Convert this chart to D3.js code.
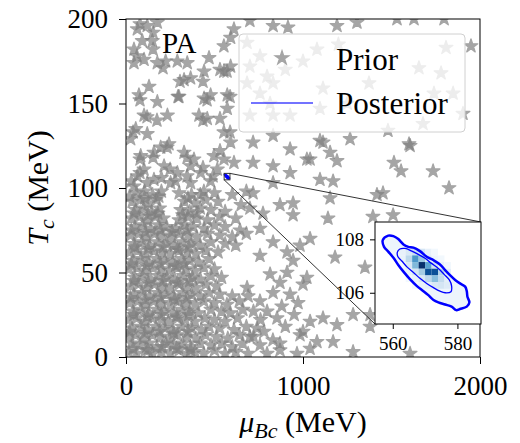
<!DOCTYPE html>
<html>
<head>
<meta charset="utf-8">
<script src="https://cdn.jsdelivr.net/npm/d3@7"></script>
<style>
  body { margin: 0; background: #fff; }
  text { font-family: "Liberation Serif", "DejaVu Serif", serif; }
</style>
</head>
<body>
<script>
// Prior samples [mu_Bc, T_c] in MeV, read off the picture region by region
// dense lower-left block
let priorDense = [
  [15,3],[60,2],[110,4],[150,2],[200,3],[250,2],[300,4],[345,2],[390,3],[440,2],[500,4],[560,2],[620,3],[690,2],
  [35,8],[80,7],[130,8],[175,6],[225,8],[270,7],[320,8],[365,6],[420,8],[480,7],[540,8],[600,6],[660,8],
  [10,12],[55,13],[100,11],[150,13],[195,12],[245,11],[290,13],[345,12],[395,11],[450,13],[510,12],[575,11],[640,13],[700,12],
  [35,17],[85,18],[125,16],[170,18],[220,17],[265,16],[315,18],[370,17],[425,16],[470,18],[530,17],[610,16],[680,18],
  [15,22],[60,23],[105,21],[150,23],[200,22],[240,21],[290,23],[335,22],[390,21],[445,23],[500,22],[560,21],[630,23],
  [40,27],[85,28],[130,26],[175,28],[220,27],[270,26],[315,28],[360,27],[410,26],[480,28],[540,27],[590,26],[660,28],[720,27],
  [20,32],[65,33],[110,31],[155,33],[200,32],[250,31],[295,33],[340,32],[390,31],[440,33],[500,32],[570,31],[640,33],
  [45,37],[90,38],[135,36],[180,38],[225,37],[270,36],[320,38],[370,37],[420,36],[470,38],[530,37],[600,36],
  [25,42],[70,43],[115,41],[160,43],[205,42],[250,41],[300,43],[345,42],[395,41],[450,43],[510,42],
  [50,47],[95,48],[140,46],[185,48],[230,47],[275,46],[325,48],[375,47],[420,46],[480,48],[540,47],
  [15,52],[60,53],[105,51],[150,53],[200,52],[245,51],[290,53],[340,52],[390,51],[440,53],[500,52],
  [40,57],[85,58],[130,56],[175,58],[220,57],[265,56],[315,58],[360,57],[410,56],[470,58],
  [20,62],[65,63],[110,61],[160,63],[205,62],[250,61],[300,63],[345,62],[395,61],[450,63],[520,62],
  [45,67],[90,68],[135,66],[180,68],[230,67],[275,66],[320,68],[370,67],[420,66],[480,68],[560,67],[620,66],
  [25,72],[70,73],[115,71],[160,73],[205,72],[255,71],[300,73],[350,72],[400,71],[460,73],[530,72],[600,71],[680,73],
  [50,77],[95,78],[140,76],[185,78],[230,77],[280,76],[330,78],[380,77],[440,76],[500,78],[560,77],
  [30,82],[75,83],[120,81],[165,83],[210,82],[300,81],[350,83],[400,82],[460,81],[530,83],[620,82],
  [55,87],[100,88],[145,86],[190,88],[310,87],[360,86],[420,88],[480,87],[560,86],[700,88],
  [35,92],[80,93],[125,91],[170,93],[330,92],[390,91],[450,93],[520,92],
  [60,97],[105,98],[150,96],[200,98],[300,97],[370,96],[440,98],[500,97],[600,96],[680,98]
];

// extra stars filling the darkest column (mu 0-400)
let priorCore = [
  [40,5],[125,4],[205,6],[285,5],[365,4],
  [20,15],[105,14],[190,15],[270,14],[350,15],
  [45,25],[120,24],[200,25],[285,24],[355,25],
  [25,35],[110,34],[195,35],[275,34],[345,35],
  [45,45],[125,44],[210,45],[290,44],[360,45],
  [30,55],[115,54],[195,55],[280,54],[330,55],
  [50,65],[125,64],[210,65],[290,64],[355,65],
  [30,75],[110,74],[195,75],[260,74],[345,75],
  [45,85],[125,84],[180,85],[320,84],[400,85],
  [20,95],[105,94],[185,95],[350,94],[420,96],
  [30,104],[120,103],[200,106],[280,104]
];

// upper-left block
let priorUpper = [
  [64,194],[120,196],[177,198],[79,197],[153,192],[92,187],[149,187],[45,182],[153,182],[62,178],
  [45,174],[102,176],[177,174],[224,175],[209,171],[290,175],[346,174],[365,165],[328,164],[305,163],
  [435,163],[469,177],[531,170],[571,169],[553,184],[591,189],[610,194],[441,169],[553,169],[591,172],
  [73,155],[79,152],[130,160],[177,151],[294,154],[458,152],[588,154],[234,143],[102,143],[119,142],
  [175,140],[299,154],[441,153],[478,155],[412,143],[435,140],[459,141],[531,141],[572,155],[572,147],
  [55,135],[40,133],[120,132],[26,129],[553,133],[588,133],[591,127],[196,124],[232,124],[243,126],
  [158,121],[153,118],[83,119],[79,117],[328,121],[345,118],[384,117],[365,113],[497,119],[531,122],
  [553,117],[610,115],[102,111],[215,113],[249,111],[290,109],[422,109],[435,112],[516,111],[64,107],
  [79,109],[158,105],[252,103],[345,107],[365,103],[478,104],[492,107],[45,101]
];

// sparser middle / lower-right
let priorMid = [
  [797,2],[870,4],[966,2],[1040,5],[1170,9],[1283,3],[1605,2],[757,7],[870,8],[983,13],
  [1079,9],[740,17],[853,23],[797,27],[757,33],[1040,21],[1113,23],[1192,19],[1283,25],[1379,25],
  [1379,18],[831,38],[927,37],[972,32],[684,41],[870,44],[1000,43],[814,49],[910,50],[1022,47],
  [1350,53],[757,60],[944,57],[1181,59],[910,62],[831,68],[983,66],[1040,70],[644,75],[757,76],
  [774,85],[944,84],[1141,82],[1395,83],[1509,84],[870,90],[944,91],[718,97],[1153,94],[1418,96],
  [1452,97],[720,12],[780,15],[830,10],[900,18],[950,25],[1000,15],[760,22],[880,30],[690,36],[650,90]
];

// upper right, incl. the ones behind the legend
let priorRight = [
  [718,127],[831,131],[927,123],[1022,117],[1113,127],[1153,121],[1192,116],[1266,129],[718,115],[831,113],
  [927,109],[1096,105],[1170,104],[831,103],[1599,126],[1514,115],[1554,110],[1735,110],[1825,100],[1480,134],
  [1096,128],[1040,117],[1605,125],
  [831,196],[915,195],[1192,196],[1305,198],[1531,200],[1627,200],[1797,200],[700,199],[1949,184],
  [684,186],[757,178],[831,162],[757,156],[1079,182],[1113,159],[927,143],[1096,147],[1373,162],[1655,171],
  [1740,156],[1780,168],[1808,183],[1848,156],[1678,138],[1904,144],[1000,175],[1250,150],[900,170],[1200,185],
  [700,172],[797,166],[684,162],[814,150],[700,143],[831,143]
];

// Posterior: 2D histogram and contour levels, zoomed in the inset
let histMu = [562, 564, 566, 568, 570, 572, 574, 576];   // bin lower edges
let histTc = [107.4, 107.15, 106.9, 106.65, 106.4, 106.15]; // bin lower edges
let histCounts = [
  [3, 6, 9, 7, 3, 1, 0, 0],
  [3, 11, 24, 15, 6, 2, 1, 0],
  [1, 6, 18, 40, 22, 8, 3, 1],
  [0, 3, 7, 14, 35, 35, 12, 4],
  [0, 1, 3, 6, 11, 17, 10, 4],
  [0, 0, 1, 3, 4, 6, 7, 5]
];
let contourOuter = [
  [556.9,107.97],[558.6,108.14],[560.2,108.12],[561.7,108.01],[563.3,107.81],[564.8,107.72],[566.4,107.69],
  [568.4,107.56],[570.5,107.35],[572.6,107.22],[574.6,107.06],[576.2,106.85],[577.7,106.66],[579.3,106.48],
  [580.8,106.35],[582.4,106.23],[582.9,106.06],[583.1,105.85],[583.7,105.64],[582.9,105.48],[580.8,105.39],
  [579.6,105.35],[578.2,105.48],[576.2,105.56],[574.1,105.64],[572.6,105.73],[571.0,105.91],[569.5,106.06],
  [567.4,106.26],[565.3,106.51],[563.3,106.79],[561.7,107.04],[560.2,107.31],[558.6,107.54],[557.3,107.72]
];
let contourInner = [
  [561.4,107.51],[562.2,107.64],[563.8,107.66],[565.9,107.56],[567.9,107.44],[570.0,107.29],[572.0,107.10],
  [574.1,106.91],[575.9,106.69],[577.5,106.48],[578.2,106.26],[578.0,106.04],[576.2,106.00],[574.6,106.06],
  [572.6,106.19],[570.5,106.35],[568.4,106.54],[566.4,106.76],[564.3,106.98],[562.8,107.19],[561.6,107.35]
];

let xTicks = [0, 1000, 2000];
let yTicks = [0, 50, 100, 150, 200];
let insetXTicks = [560, 580];
let insetYTicks = [106, 108];
let insetMu = [554.5, 587.3];
let insetTc = [104.83, 108.65];

let width = 520, height = 443;
let margin = { top: 19, right: 40, bottom: 86, left: 126 };
let font = '"Liberation Serif", "DejaVu Serif", serif';

let svg = d3.select('body').append('svg')
  .attr('width', width)
  .attr('height', height);

let x = d3.scaleLinear().domain([0, 2000]).range([margin.left, width - margin.right]);
let y = d3.scaleLinear().domain([0, 200]).range([height - margin.bottom, margin.top]);

svg.append('clipPath').attr('id', 'plotclip')
  .append('rect')
  .attr('x', x(0)).attr('y', y(200))
  .attr('width', x(2000) - x(0)).attr('height', y(0) - y(200));

let star = d3.symbol().type(d3.symbolStar).size(58);
let prior = priorDense.concat(priorCore, priorUpper, priorMid, priorRight);

let plot = svg.append('g').attr('clip-path', 'url(#plotclip)');
plot.selectAll('path.prior')
  .data(prior)
  .join('path')
  .attr('class', 'prior')
  .attr('d', star)
  .attr('transform', d => `translate(${x(d[0])},${y(d[1])})`)
  .attr('fill', '#808080')
  .attr('stroke', '#808080')
  .attr('stroke-width', 1.3)
  .attr('stroke-linejoin', 'round')
  .attr('opacity', 0.7);

// posterior blob in the main axes
let mainLine = d3.line().x(d => x(d[0])).y(d => y(d[1])).curve(d3.curveLinearClosed);
plot.append('path')
  .attr('d', mainLine(contourOuter))
  .attr('fill', '#0000ff')
  .attr('stroke', '#0000ff')
  .attr('stroke-width', 2);

// axes
let yaxis = svg.append('g')
  .attr('transform', `translate(${x(0)},0)`)
  .call(d3.axisLeft(y).tickValues(yTicks).tickFormat(d3.format('d')).tickSize(7).tickPadding(11));
let xaxis = svg.append('g')
  .attr('transform', `translate(0,${y(0)})`)
  .call(d3.axisBottom(x).tickValues(xTicks).tickFormat(d3.format('d')).tickSize(7).tickPadding(12));
[xaxis, yaxis].forEach(a => {
  a.select('.domain').remove();
  a.attr('font-family', font).attr('font-size', 27);
  a.selectAll('text').attr('fill', '#000');
});

svg.append('rect')
  .attr('x', x(0)).attr('y', y(200))
  .attr('width', x(2000) - x(0)).attr('height', y(0) - y(200))
  .attr('fill', 'none').attr('stroke', '#000').attr('stroke-width', 1);

// axis labels
let xl = svg.append('text')
  .attr('x', (x(0) + x(2000)) / 2)
  .attr('y', 432)
  .attr('text-anchor', 'middle')
  .attr('font-size', 30);
xl.append('tspan').attr('font-style', 'italic').text('μ');
xl.append('tspan').attr('font-style', 'italic').attr('font-size', 22).attr('dy', 6).text('Bc');
xl.append('tspan').attr('dy', -6).text(' (MeV)');

let yl = svg.append('text')
  .attr('transform', `translate(48,${(y(0) + y(200)) / 2}) rotate(-90)`)
  .attr('text-anchor', 'middle')
  .attr('font-size', 30);
yl.append('tspan').attr('font-style', 'italic').text('T');
yl.append('tspan').attr('font-style', 'italic').attr('font-size', 22).attr('dy', 6).text('c');
yl.append('tspan').attr('dy', -6).text(' (MeV)');

svg.append('text')
  .attr('x', 162).attr('y', 53)
  .attr('font-size', 29)
  .text('PA');

// inset
let ix = d3.scaleLinear().domain(insetMu).range([375, 481]);
let iy = d3.scaleLinear().domain(insetTc).range([324, 222]);

// connector lines from the zoomed rectangle to the inset corners
let conn = svg.append('g').attr('stroke', '#333').attr('stroke-width', 1).attr('fill', 'none');
conn.append('rect')
  .attr('x', x(insetMu[0])).attr('y', y(insetTc[1]))
  .attr('width', x(insetMu[1]) - x(insetMu[0]))
  .attr('height', y(insetTc[0]) - y(insetTc[1]));
conn.append('line')
  .attr('x1', x(insetMu[1])).attr('y1', y(insetTc[1]))
  .attr('x2', ix(insetMu[1])).attr('y2', iy(insetTc[1]));
conn.append('line')
  .attr('x1', x(insetMu[0])).attr('y1', y(insetTc[0]))
  .attr('x2', ix(insetMu[0])).attr('y2', iy(insetTc[0]));

svg.append('clipPath').attr('id', 'insetclip')
  .append('rect')
  .attr('x', ix(insetMu[0])).attr('y', iy(insetTc[1]))
  .attr('width', ix(insetMu[1]) - ix(insetMu[0]))
  .attr('height', iy(insetTc[0]) - iy(insetTc[1]));

svg.append('rect')
  .attr('x', ix(insetMu[0])).attr('y', iy(insetTc[1]))
  .attr('width', ix(insetMu[1]) - ix(insetMu[0]))
  .attr('height', iy(insetTc[0]) - iy(insetTc[1]))
  .attr('fill', '#fff');

let inset = svg.append('g').attr('clip-path', 'url(#insetclip)');
let insetLine = d3.line().x(d => ix(d[0])).y(d => iy(d[1])).curve(d3.curveCatmullRomClosed);
let blues = d3.scaleSequential(d3.interpolateBlues).domain([0, 40]);

inset.append('path')
  .attr('d', insetLine(contourOuter))
  .attr('fill', blues(2));

let cells = [];
histCounts.forEach((row, i) => row.forEach((c, j) => {
  if (c > 0) cells.push({ mu: histMu[j], tc: histTc[i], c: c });
}));
inset.selectAll('rect.cell')
  .data(cells)
  .join('rect')
  .attr('class', 'cell')
  .attr('x', d => ix(d.mu))
  .attr('y', d => iy(d.tc + 0.25))
  .attr('width', d => ix(d.mu + 2) - ix(d.mu))
  .attr('height', d => iy(d.tc) - iy(d.tc + 0.25))
  .attr('fill', d => blues(d.c));

inset.append('path')
  .attr('d', insetLine(contourInner))
  .attr('fill', 'none').attr('stroke', '#0000ff').attr('stroke-width', 1.3);
inset.append('path')
  .attr('d', insetLine(contourOuter))
  .attr('fill', 'none').attr('stroke', '#0000ff').attr('stroke-width', 2.5);

svg.append('rect')
  .attr('x', ix(insetMu[0])).attr('y', iy(insetTc[1]))
  .attr('width', ix(insetMu[1]) - ix(insetMu[0]))
  .attr('height', iy(insetTc[0]) - iy(insetTc[1]))
  .attr('fill', 'none').attr('stroke', '#000').attr('stroke-width', 1);

let iyaxis = svg.append('g')
  .attr('transform', `translate(${ix(insetMu[0])},0)`)
  .call(d3.axisLeft(iy).tickValues(insetYTicks).tickFormat(d3.format('d')).tickSize(5).tickPadding(6));
let ixaxis = svg.append('g')
  .attr('transform', `translate(0,${iy(insetTc[0])})`)
  .call(d3.axisBottom(ix).tickValues(insetXTicks).tickFormat(d3.format('d')).tickSize(5).tickPadding(8));
[ixaxis, iyaxis].forEach(a => {
  a.select('.domain').remove();
  a.attr('font-family', font).attr('font-size', 19);
  a.selectAll('text').attr('fill', '#000');
});

// legend
let legend = svg.append('g');
legend.append('rect')
  .attr('x', 239).attr('y', 34)
  .attr('width', 226).attr('height', 98)
  .attr('rx', 4)
  .attr('fill', '#fff').attr('fill-opacity', 0.8)
  .attr('stroke', '#d0d0d0').attr('stroke-width', 1);
legend.append('path')
  .attr('d', star)
  .attr('transform', 'translate(282,58)')
  .attr('fill', '#808080').attr('stroke', '#808080').attr('stroke-width', 1.3)
  .attr('opacity', 0.7);
legend.append('line')
  .attr('x1', 251).attr('x2', 313)
  .attr('y1', 103).attr('y2', 103)
  .attr('stroke', '#0000ff').attr('stroke-opacity', 0.55).attr('stroke-width', 2);
legend.append('text').attr('x', 336).attr('y', 70).attr('font-size', 31).text('Prior');
legend.append('text').attr('x', 336).attr('y', 114).attr('font-size', 31).text('Posterior');
</script>
</body>
</html>
